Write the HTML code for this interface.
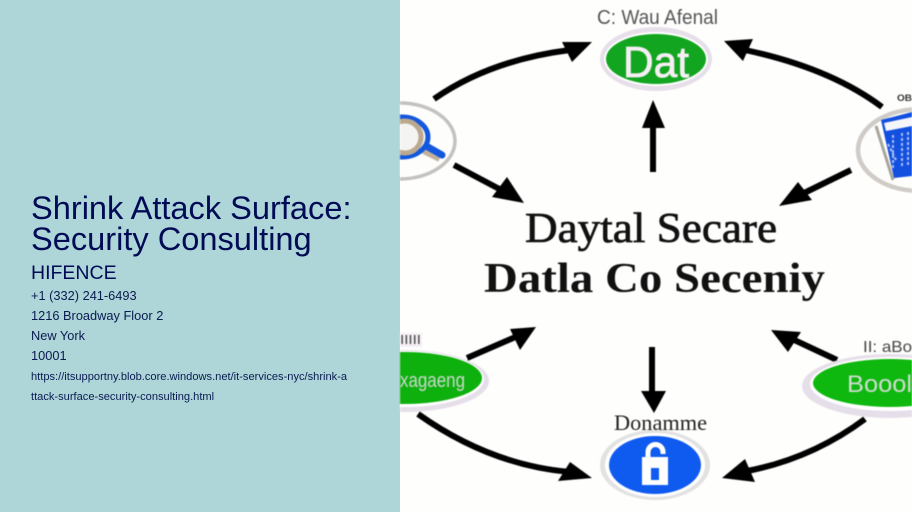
<!DOCTYPE html>
<html><head><meta charset="utf-8"><style>
html,body{margin:0;padding:0}
body{width:912px;height:512px;overflow:hidden;position:relative;background:#fefefd;font-family:"Liberation Sans",sans-serif}
#l{position:absolute;left:0;top:0;width:400px;height:512px;background:#aed6d9}
#l div{position:absolute;left:31px;white-space:nowrap;color:#000a55}
svg{position:absolute;left:400px;top:0;filter:blur(.4px)}
</style></head><body>
<div id="l">
<div style="top:192px;font-size:32.6px;line-height:31px">Shrink Attack Surface:<br>Security Consulting</div>
<div style="top:262px;font-size:19.5px;line-height:23px">HIFENCE</div>
<div style="top:286px;font-size:12.8px;line-height:20px;color:#0a1a50">+1 (332) 241-6493<br>1216 Broadway Floor 2<br>New York<br>10001</div>
<div style="top:367px;font-size:11.1px;line-height:20px;color:#0a1a50">https://itsupportny.blob.core.windows.net/it-services-nyc/shrink-a<br>ttack-surface-security-consulting.html</div>
</div>
<svg width="512" height="512" viewBox="400 0 512 512">
<g fill="none" stroke="#000" stroke-width="6">
<path d="M434 99Q490 60 570 50"/>
<path d="M882 107Q830 68 745 50"/>
<path d="M653 172V125"/>
<path d="M454 165L505 192"/>
<path d="M851 170L798 196"/>
<path d="M467 358L520 335"/>
<path d="M418 414Q490 465 570 472"/>
<path d="M837 360L790 338"/>
<path d="M865 419Q810 460 742 472"/>
<path d="M652 347V395"/>
</g>
<g fill="#000">
<path d="M592 42L562 42L572 62Z"/>
<path d="M724 41L753 39L743 61Z"/>
<path d="M653 100L642 128H665Z"/>
<path d="M524 203L507 177L492 197Z"/>
<path d="M779 206L798 182L812 200Z"/>
<path d="M536 327L510 329L520 350Z"/>
<path d="M592 478L570 462L558 481Z"/>
<path d="M771 330L801 332L788 352Z"/>
<path d="M722 478L745 459L755 482Z"/>
<path d="M654 413L641 391H666Z"/>
</g>
<ellipse cx="656" cy="59" rx="56" ry="32" fill="#e6dfea"/>
<ellipse cx="656" cy="59" rx="52" ry="27" fill="#fff"/>
<ellipse cx="656" cy="59" rx="50" ry="25" fill="#12a51f"/>
<text x="623" y="77" font-family="Liberation Sans,sans-serif" font-size="44" fill="#f6eef4" stroke="#f6eef4" stroke-width=".8" textLength="66" lengthAdjust="spacingAndGlyphs">Dat</text>
<text x="597" y="24" font-family="Liberation Sans,sans-serif" font-size="20" fill="#555" textLength="121" lengthAdjust="spacingAndGlyphs">C: Wau Afenal</text>
<ellipse cx="400" cy="141" rx="55" ry="38" fill="#fdfdfb" stroke="#c4c2bf" stroke-width="3.5"/>
<path d="M424 150L440 158" stroke="#c2b09c" stroke-width="8" fill="none"/>
<path d="M428 147L442 155" stroke="#1257dd" stroke-width="7" stroke-linecap="round" fill="none"/>
<ellipse cx="402" cy="137" rx="26" ry="20" fill="#f4f4f4" stroke="#1257dd" stroke-width="5"/>
<ellipse cx="405" cy="137" rx="16" ry="16" fill="#f4f4f2" stroke="#bba98f" stroke-width="5"/>
<ellipse cx="920" cy="150" rx="62" ry="41" fill="#fdfdfb" stroke="#cfccc8" stroke-width="4.5"/>
<path d="M876 126L893 180" stroke="#a9a59a" stroke-width="3" fill="none"/>
<path d="M881 120L912 112V176L894 178Z" fill="#1350e0"/>
<path d="M884 123L912 117V126L886 131Z" fill="#f6f6fa"/>
<path d="M893 135V170M902 133V168M908 132V166M888 144L896 160" stroke="#a9c0ee" stroke-width="2" fill="none" stroke-dasharray="3 2"/>
<text x="897" y="101" font-family="Liberation Sans,sans-serif" font-size="9" font-weight="bold" fill="#333" textLength="15" lengthAdjust="spacingAndGlyphs">OB</text>
<ellipse cx="405" cy="381" rx="84" ry="31" fill="#e6dfea"/>
<ellipse cx="405" cy="379" rx="79" ry="28" fill="#fff"/>
<ellipse cx="405" cy="378" rx="77" ry="26" fill="#0eb00e"/>
<rect x="400" y="333" width="22" height="14" fill="#f3eef3"/>
<text x="400" y="344" font-family="Liberation Sans,sans-serif" font-size="13" fill="#444" textLength="21" lengthAdjust="spacingAndGlyphs">IIIII</text>
<text x="400" y="387" font-family="Liberation Sans,sans-serif" font-size="20" fill="#c9d8cc" textLength="65" lengthAdjust="spacingAndGlyphs">xagaeng</text>
<ellipse cx="890" cy="386" rx="88" ry="32" fill="#e6dfea"/>
<ellipse cx="890" cy="384" rx="80" ry="27" fill="#fff"/>
<ellipse cx="890" cy="383" rx="77" ry="24" fill="#0eb80e"/>
<text x="847" y="392" font-family="Liberation Sans,sans-serif" font-size="24" fill="#d0dcd0" textLength="65" lengthAdjust="spacingAndGlyphs">Boool</text>
<text x="863" y="352" font-family="Liberation Sans,sans-serif" font-size="16" fill="#444" textLength="49" lengthAdjust="spacingAndGlyphs">II: aBo</text>
<ellipse cx="655" cy="465" rx="55" ry="35" fill="#e2e2e2"/>
<ellipse cx="655" cy="465" rx="50" ry="32" fill="#fff"/>
<ellipse cx="655" cy="465" rx="46" ry="29" fill="#0f5bf0"/>
<path d="M648 458V452A7.5 7.5 0 0 1 663 452V454" fill="none" stroke="#fff" stroke-width="5"/>
<path d="M642 457H668V485H642ZM651 468V480H659V468Z" fill="#fff" fill-rule="evenodd"/>
<text x="614" y="430" font-family="Liberation Serif,serif" font-size="22" fill="#222" textLength="93" lengthAdjust="spacingAndGlyphs">Donamme</text>
<text x="525" y="242" font-family="Liberation Serif,serif" font-size="42" fill="#111" stroke="#111" stroke-width=".7" textLength="252" lengthAdjust="spacingAndGlyphs">Daytal Secare</text>
<text x="484" y="292" font-family="Liberation Serif,serif" font-size="42" font-weight="bold" fill="#111" textLength="341" lengthAdjust="spacingAndGlyphs">Datla Co Seceniy</text>
</svg>
</body></html>
